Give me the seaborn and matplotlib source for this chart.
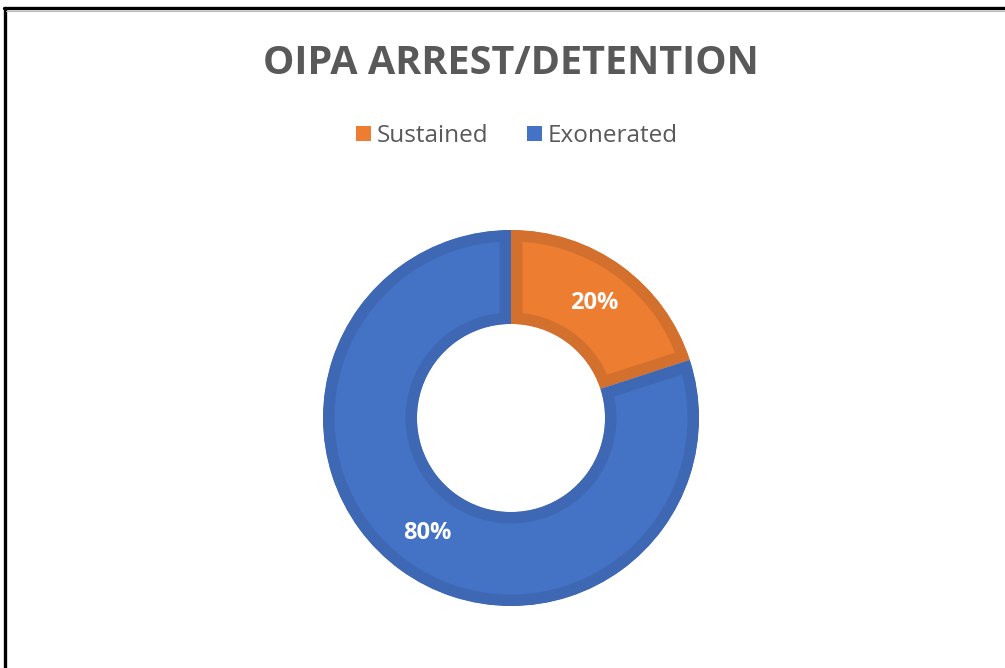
import matplotlib
matplotlib.use("Agg")
import matplotlib.pyplot as plt
import seaborn as sns
from matplotlib.patches import Rectangle, Wedge
from matplotlib.lines import Line2D

# data
categories = ["Sustained", "Exonerated"]
values = [20, 80]
face_colors = ["#ED7D31", "#4472C4"]
edge_colors = ["#D3702D", "#3E68B4"]
title = "OIPA ARREST/DETENTION"

sns.set_theme(style="white")
plt.rcParams["font.family"] = ["Open Sans", "DejaVu Sans"]

W, H = 1005, 668
fig = plt.figure(figsize=(W / 100, H / 100), dpi=100)
fig.patch.set_facecolor("white")

# donut centred at (511, 418) px, outer radius 188 px
cx, cy, r = 511, 418, 188
ax = fig.add_axes([(cx - r) / W, (H - cy - r) / H, 2 * r / W, 2 * r / H])

wedges, texts, autotexts = ax.pie(
    values,
    colors=face_colors,
    startangle=90,
    counterclock=False,
    radius=1,
    autopct="%1.0f%%",
    pctdistance=0.755,
    wedgeprops=dict(width=0.5),
    textprops=dict(color="white", fontsize=17, fontweight="bold"),
)
ax.set_xlim(-1, 1)
ax.set_ylim(-1, 1)
ax.set_aspect("equal")
ax.axis("off")

# inner stroke: draw a wide edge and clip it to a copy of the wedge
for w, ec in zip(wedges, edge_colors):
    clip = Wedge(w.center, w.r, w.theta1, w.theta2, width=w.width,
                 transform=ax.transData)
    w.set_edgecolor(ec)
    w.set_linewidth(16.5)
    w.set_clip_on(True)
    w.set_clip_path(clip)

fig.text(cx / W, 1 - 63 / H, title, ha="center", va="center",
         fontsize=28.5, fontweight="bold", color="#595959")

handles = [Rectangle((0, 0), 1, 1, facecolor=c, edgecolor="none") for c in face_colors]
fig.legend(handles, categories, loc="center", bbox_to_anchor=(517 / W, 1 - 136 / H),
           ncol=2, frameon=False, fontsize=17.5, labelcolor="#595959",
           handlelength=0.6, handleheight=0.6, handletextpad=0.25, columnspacing=1.6)

# frame lines (top and left only, like the cropped screenshot)
fig.add_artist(Line2D([4 / W, 1], [1 - 8 / H, 1 - 8 / H], color="black", lw=2.4,
                      transform=fig.transFigure))
fig.add_artist(Line2D([5 / W, 5 / W], [0, 1 - 8 / H], color="black", lw=2.4,
                      transform=fig.transFigure))
fig.add_artist(Line2D([6 / W, 1], [1 - 10.5 / H, 1 - 10.5 / H], color="#BBBBBB", lw=0.8,
                      transform=fig.transFigure))

fig.savefig("out.png", dpi=100)
plt.close()
